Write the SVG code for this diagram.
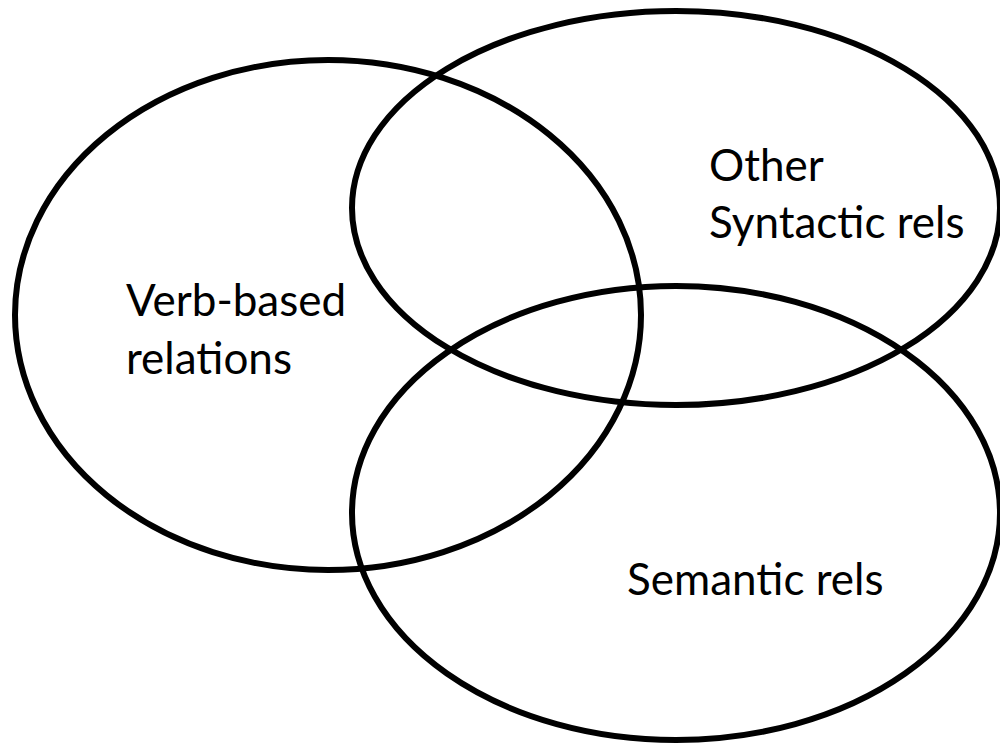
<svg xmlns="http://www.w3.org/2000/svg" width="1000" height="750" viewBox="0 0 1000 750">
  <style>
    .set { fill: none; stroke: #000; stroke-width: 6; }
    .lbl { font-family: "Lato", "Open Sans", "Liberation Sans", sans-serif; font-size: 44px; fill: #000; }
  </style>
  <rect width="1000" height="750" fill="#fff"/>
  <g id="verb-based">
    <ellipse class="set" cx="328" cy="315" rx="313" ry="255"/>
    <text class="lbl" x="126" y="316">Verb-based</text>
    <text class="lbl" x="126" y="374">relations</text>
  </g>
  <g id="other-syntactic">
    <ellipse class="set" cx="676" cy="208" rx="324" ry="197"/>
    <text class="lbl" x="709" y="181">Other</text>
    <text class="lbl" x="709" y="238">Syntactic rels</text>
  </g>
  <g id="semantic">
    <ellipse class="set" cx="676" cy="513" rx="324" ry="227"/>
    <text class="lbl" x="627" y="595">Semantic rels</text>
  </g>
  <g id="connectors"/>
</svg>
